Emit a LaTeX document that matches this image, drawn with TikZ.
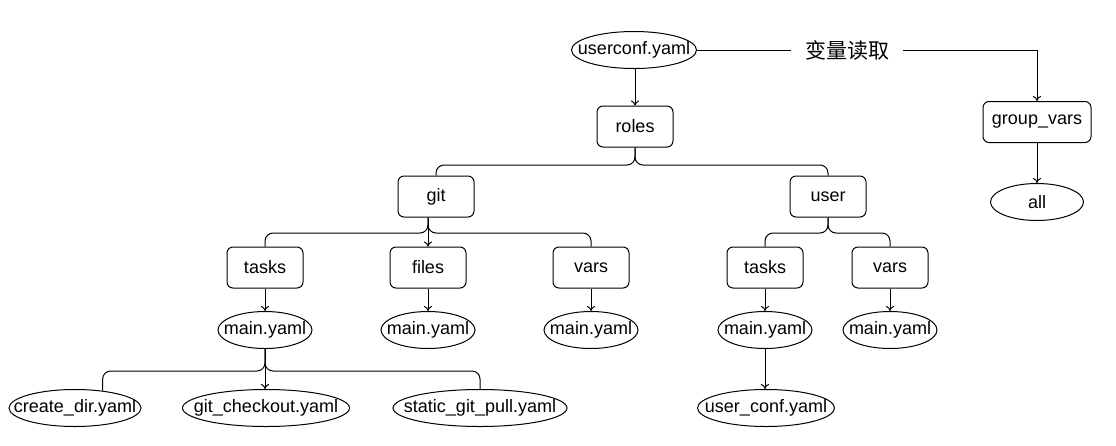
\documentclass[tikz,border=0pt]{standalone}
\usepackage{fontspec}
\setmainfont{Liberation Sans}
\newfontfamily\cjkfont{Noto Sans CJK SC}
\usetikzlibrary{arrows.meta,shapes.geometric}
\tikzset{
  txt/.style={font=\fontsize{18}{20}\selectfont},
  box/.style={draw, txt, rounded corners=6pt, minimum width=76pt, minimum height=41pt, inner sep=2pt, line width=1pt},
  ell/.style={draw, ellipse, txt, inner sep=0pt, minimum height=37pt, line width=1pt},
  conn/.style={line width=1pt, rounded corners=8pt},
  arr/.style={line width=1pt, -{To[length=5pt,width=8pt]}},
}
\begin{document}
\begin{tikzpicture}[x=1pt,y=-1pt]
\useasboundingbox (0,0) rectangle (1116,445);
% nodes
\node[ell, minimum width=125pt] (uc) at (634,50) {\makebox[0pt]{userconf.yaml}};
\node[box] (roles) at (635,126.5) {roles};
\node[box] (git) at (436,196.5) {git};
\node[box] (user) at (828,196.5) {user};
\node[box] (gtasks) at (265,267.5) {tasks};
\node[box] (gfiles) at (428,267.5) {files};
\node[box] (gvars) at (591,267.5) {vars};
\node[box] (utasks) at (765,267.5) {tasks};
\node[box] (uvars) at (890,267.5) {vars};
\node[ell, minimum width=94pt] (gm1) at (265,330) {\makebox[0pt]{main.yaml}};
\node[ell, minimum width=94pt] (gm2) at (428,330) {\makebox[0pt]{main.yaml}};
\node[ell, minimum width=94pt] (gm3) at (591,330) {\makebox[0pt]{main.yaml}};
\node[ell, minimum width=94pt] (um1) at (765,330) {\makebox[0pt]{main.yaml}};
\node[ell, minimum width=94pt] (um2) at (890,330) {\makebox[0pt]{main.yaml}};
\node[ell, minimum width=132pt] (cd) at (75,408) {\makebox[0pt]{create\_dir.yaml}};
\node[ell, minimum width=167pt] (gc) at (266,408) {\makebox[0pt]{git\_checkout.yaml}};
\node[ell, minimum width=174pt] (st) at (480,408) {\makebox[0pt]{static\_git\_pull.yaml}};
\node[ell, minimum width=137pt] (ucf) at (766,408) {\makebox[0pt]{user\_conf.yaml}};
\node[box, minimum width=108pt] (gv) at (1037,122) {group\_vars};
\node[ell, minimum width=93pt] (all) at (1037,202) {\makebox[0pt]{all}};
\node[inner xsep=14pt, inner ysep=2pt, font=\cjkfont\fontsize{21}{24}\selectfont] (lbl) at (847,50) {变量读取};
% helper levels
\coordinate (rh) at (0,165);
\coordinate (gh) at (0,233);
\coordinate (mh) at (0,371);
% connectors
\draw[conn] (uc.east) -- (lbl.west);
\draw[arr] (lbl.east) -| (gv.north);
\draw[arr] (gv.south) -- (all.north);
\draw[arr] (uc.south -| roles.north) -- (roles.north);
\draw[conn] (roles.south) |- (git.north |- rh) -- (git.north);
\draw[conn] (roles.south) |- (user.north |- rh) -- (user.north);
\draw[conn] (gfiles.north |- git.south) |- (gtasks.north |- gh) -- (gtasks.north);
\draw[conn] (gfiles.north |- git.south) |- (gvars.north |- gh) -- (gvars.north);
\draw[arr] (gfiles.north |- git.south) -- (gfiles.north);
\draw[conn] (user.south) |- (utasks.north |- gh) -- (utasks.north);
\draw[conn] (user.south) |- (uvars.north |- gh) -- (uvars.north);
\draw[arr] (gtasks.south) -- (gm1.north);
\draw[arr] (gfiles.south) -- (gm2.north);
\draw[arr] (gvars.south) -- (gm3.north);
\draw[arr] (utasks.south) -- (um1.north);
\draw[arr] (uvars.south) -- (um2.north);
\draw[conn] (gm1.south) |- (cd.32 |- mh) -- (cd.32);
\draw[conn] (gm1.south) |- (st.north |- mh) -- (st.north);
\draw[arr] (gm1.south) -- (gm1.south |- gc.north);
\draw[arr] (um1.south) -- (um1.south |- ucf.north);
\end{tikzpicture}
\end{document}
